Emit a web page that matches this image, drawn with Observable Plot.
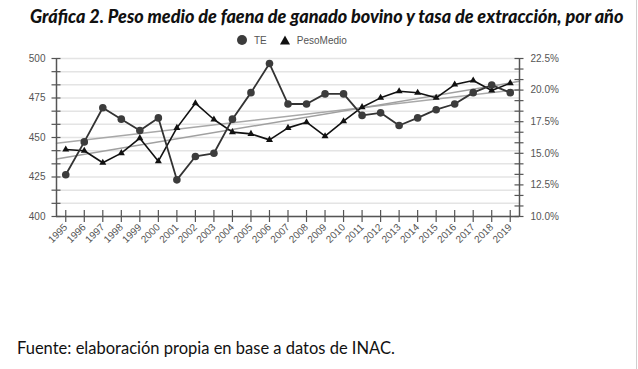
<!DOCTYPE html>
<html>
<head>
<meta charset="utf-8">
<script src="https://cdn.jsdelivr.net/npm/d3@7"></script>
<script src="https://cdn.jsdelivr.net/npm/@observablehq/plot@0.6"></script>
<style>
  html, body { margin: 0; padding: 0; background: #fff; }
  #wrap { position: relative; width: 638px; height: 369px; overflow: hidden; background: #fff; }
  #title { position: absolute; left: 30px; top: 5px; text-align: left;
    font-family: Lato, "Open Sans", sans-serif; font-weight: 900; font-style: italic; font-size: 18px; color: #111; white-space: nowrap; }
  #legend { position: absolute; top: 34px; left: 236px; font-family: "Liberation Sans", Arial, sans-serif; font-size: 10px; color: #555; display: flex; align-items: center; white-space: nowrap; }
  #caption { position: absolute; left: 17px; top: 338px; font-family: Lato, "Open Sans", sans-serif; font-size: 16.5px; color: #111; white-space: nowrap; }
  #chart { position: absolute; left: 0; top: 0; }
  #border { position: absolute; left: 636px; top: 0; width: 1px; height: 369px; background: #cfcfcf; }
</style>
</head>
<body>
<div id="wrap">
  <div id="chart"></div>
  <div id="title">Gráfica 2. Peso medio de faena de ganado bovino y tasa de extracción, por año</div>
  <div id="legend">
    <svg width="12" height="12" style="margin-right:6px"><circle cx="6" cy="6" r="5" fill="#3c3c3c"/></svg><span>TE</span>
    <svg width="12" height="12" style="margin-left:12px;margin-right:6px"><path d="M6,1.5 L11,10.5 L1,10.5 Z" fill="#111"/></svg><span>PesoMedio</span>
  </div>
  <div id="caption">Fuente: elaboración propia en base a datos de INAC.</div>
  <div id="border"></div>
</div>
<script>
const years = [1995,1996,1997,1998,1999,2000,2001,2002,2003,2004,2005,2006,2007,2008,2009,2010,2011,2012,2013,2014,2015,2016,2017,2018,2019];
// Tasa de extracción (%), right axis
const te = [13.3,15.9,18.6,17.7,16.8,17.8,12.9,14.75,15.0,17.7,19.8,22.1,18.9,18.9,19.7,19.7,18.0,18.2,17.2,17.8,18.45,18.9,19.8,20.4,19.8];
// Peso medio (kg), left axis
const peso = [442.4,441.6,434,440.1,449.6,435,456.1,471.7,461.4,453.4,452.3,448.5,456.1,459.7,450.8,460.3,469.2,475.1,479.3,478.3,475.1,483.5,486.1,479.7,484.4];

const leftTicks = [400,425,450,475,500];
const rightTicks = [10,12.5,15,17.5,20,22.5];

// map percent (right axis) onto left-axis units
const pctToLeft = p => 400 + (p - 10) * 8;
const leftToPct = v => (v - 400) / 8 + 10;

const teData = years.map((y, i) => ({year: y, v: pctToLeft(te[i])}));
const pesoData = years.map((y, i) => ({year: y, v: peso[i]}));

function fit(data) {
  const mx = d3.mean(data, d => d.year), my = d3.mean(data, d => d.v);
  const b = d3.sum(data, d => (d.year - mx) * (d.v - my)) / d3.sum(data, d => (d.year - mx) ** 2);
  const a = my - b * mx;
  const x0 = years[0] - 0.5, x1 = years[years.length - 1] + 0.5;
  return [{year: x0, v: a + b * x0}, {year: x1, v: a + b * x1}];
}
const teTrend = fit(teData);
const pesoTrend = fit(pesoData);

const xMin = years[0] - 0.5, xMax = years[years.length - 1] + 0.5;
const leftMinor = d3.range(0, 13).map(i => 400 + i * 100 / 12);
const rightMinor = d3.range(0, 16).map(i => pctToLeft(10 + i * 12.5 / 15));
const axisColor = "#555";

const chart = Plot.plot({
  width: 638,
  height: 250,
  marginLeft: 56,
  marginRight: 119,
  marginTop: 58,
  marginBottom: 34,
  style: {fontFamily: "'Liberation Sans', Arial, sans-serif", fontSize: "10px", color: axisColor, background: "transparent"},
  x: {domain: [xMin, xMax], axis: null, label: null},
  y: {domain: [400, 500], axis: null, label: null},
  marks: [
    Plot.ruleY(leftMinor, {y: d => d, stroke: "#e4e4e4", strokeWidth: 1.5}),
    Plot.line(teTrend, {x: "year", y: "v", stroke: "#a8a8a8", strokeWidth: 1.5}),
    Plot.line(pesoTrend, {x: "year", y: "v", stroke: "#a0a0a0", strokeWidth: 1.5}),
    Plot.line(pesoData, {x: "year", y: "v", stroke: "#111", strokeWidth: 1.6}),
    Plot.dot(pesoData, {x: "year", y: "v", symbol: "triangle", r: 2.6, fill: "#111"}),
    Plot.line(teData, {x: "year", y: "v", stroke: "#333", strokeWidth: 1.8}),
    Plot.dot(teData, {x: "year", y: "v", r: 3.8, fill: "#3c3c3c"}),
    // axis lines
    Plot.ruleX([xMin], {y1: 400, y2: 500, stroke: axisColor, strokeWidth: 1.5}),
    Plot.ruleX([xMax], {y1: 400, y2: 500, stroke: axisColor, strokeWidth: 1.5}),
    Plot.ruleY([400], {x1: xMin, x2: xMax, stroke: axisColor, strokeWidth: 1.5}),
    // cross ticks
    Plot.ruleY(leftMinor, {y: d => d, x1: xMin, x2: xMin, insetLeft: -4.5, insetRight: -4.5, stroke: axisColor, strokeWidth: 1.2}),
    Plot.ruleY(rightMinor, {y: d => d, x1: xMax, x2: xMax, insetLeft: -4.5, insetRight: -4.5, stroke: axisColor, strokeWidth: 1.2}),
    Plot.ruleX(years, {x: d => d, y1: 400, y2: 400, insetTop: -6, insetBottom: -6, stroke: axisColor, strokeWidth: 1.2}),
    // labels
    Plot.axisY({anchor: "left", ticks: leftTicks, tickSize: 0, tickPadding: 11, tickFormat: d => d, fill: axisColor, label: null}),
    Plot.axisY({anchor: "right", ticks: rightTicks.map(pctToLeft), tickSize: 0, tickPadding: 11, tickFormat: v => leftToPct(v).toFixed(1) + "%", fill: axisColor, label: null}),
    Plot.axisX({ticks: years, tickSize: 0, tickPadding: 9, tickRotate: -45, tickFormat: d => String(d), fill: axisColor, label: null})
  ]
});
document.getElementById("chart").appendChild(chart);
</script>
</body>
</html>
